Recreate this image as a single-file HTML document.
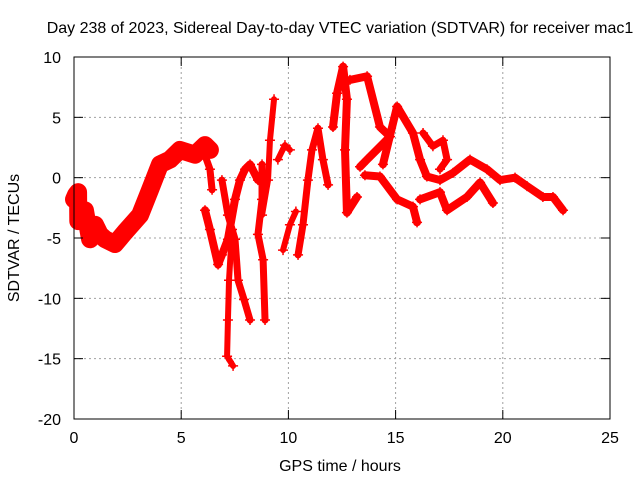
<!DOCTYPE html>
<html><head><meta charset="utf-8"><style>
body{margin:0;background:#fff}
svg text{font-family:"Liberation Sans",sans-serif;font-size:16px;fill:#000}
</style></head><body>
<svg id="chart" width="640" height="480" viewBox="0 0 640 480">
<rect width="640" height="480" fill="#fff"/>
<text x="340" y="33" text-anchor="middle">Day 238 of 2023, Sidereal Day-to-day VTEC variation (SDTVAR) for receiver mac1</text>
<g id="grid"></g>
<g id="marks"></g>
<rect x="74" y="57" width="536" height="362" fill="none" stroke="#000" stroke-width="1"/>
<g id="axes"></g>
<text x="340" y="471" text-anchor="middle">GPS time / hours</text>
<text transform="translate(19,238) rotate(-90)" text-anchor="middle">SDTVAR / TECUs</text>
</svg>
<script>
const xTicks=[0,5,10,15,20,25];
const yTicks=[10,5,0,-5,-10,-15,-20];
const A_h=[0,0.1,0.19,0.2,0.51,0.75,0.98,1.2,1.45,1.91,2.38,3.08,3.55,4.01,4.48,4.94,5.64,6.11,6.34];
const A_v=[-1.8,-1.4,-1.2,-3.6,-2.7,-5.1,-3.9,-4.7,-5.1,-5.5,-4.5,-3.1,-1.0,1.1,1.5,2.3,1.9,2.7,2.3];
const B1_h=[6.02,6.34,6.44];const B1_v=[2.3,0.7,-1.0];
const B2_h=[6.11,6.34,6.72,6.90,7.18,7.51,7.74,7.98,8.21,8.58];const B2_v=[-2.7,-4.3,-7.2,-6.4,-5.1,-1.8,-0.2,0.7,1.1,-0.2];
const C1_h=[6.90,7.18,7.51,7.65,7.93,8.21];const C1_v=[-0.2,-3.1,-5.1,-8.5,-10.1,-11.8];
const C2_h=[7.37,7.23,7.18,7.14,7.42];const C2_v=[-4.3,-8.5,-11.8,-14.8,-15.6];
const D_h=[8.77,8.77,8.58,8.82,8.91];const D_v=[1.1,-1.8,-4.7,-6.8,-11.8];
const E_h=[8.77,9.05,9.14,9.33];const E_v=[-3.1,-0.2,3.1,6.5];
const F1_h=[9.75,10.07,10.35];const F1_v=[-6.0,-3.9,-2.8];
const F2_h=[9.51,9.84,10.07];const F2_v=[1.5,2.7,2.3];
const H_h=[10.45,10.68,10.91,11.10,11.38,11.61,11.85];const H_v=[-6.4,-3.9,-0.2,2.3,4.1,1.5,-0.6];
const I_h=[12.08,12.27,12.55,12.73,12.64,12.73,13.20];const I_v=[4.2,7.0,9.2,6.5,2.3,-2.9,-1.6];
const J_h=[12.87,13.67,14.27,14.74,13.67,13.34];const J_v=[8.1,8.4,4.2,3.4,1.5,0.9];
const K_h=[14.41,15.07,15.81,16.14,16.46,17.07,17.68,18.47,19.26,19.87,20.57,21.13,21.87,22.34,22.81];
const K_v=[1.1,5.9,3.7,1.5,0.1,-0.2,0.4,1.5,0.7,-0.2,0.0,-0.7,-1.6,-1.6,-2.7];
const L_h=[13.57,14.27,15.07,15.81,16.0];const L_v=[0.2,0.1,-1.8,-2.4,-3.7];
const M_h=[16.14,17.07,17.40,18.33,18.94,19.54];const M_v=[-1.8,-1.2,-2.7,-1.6,-0.4,-2.1];
const N_h=[16.28,16.74,17.21,17.40,17.07];const N_v=[3.7,2.6,3.1,1.5,0.7];
const seriesList=[[A_h,A_v,'track-a',18],[B1_h,B1_v,'track-b1',7],[B2_h,B2_v,'track-b2',8],[C1_h,C1_v,'track-c1',7],[C2_h,C2_v,'track-c2',6],[D_h,D_v,'track-d',7],[E_h,E_v,'track-e',6],[F1_h,F1_v,'track-f1',6],[F2_h,F2_v,'track-f2',6],[H_h,H_v,'track-h',7],[I_h,I_v,'track-i',8],[J_h,J_v,'track-j',8],[K_h,K_v,'track-k',8],[L_h,L_v,'track-l',8],[M_h,M_v,'track-m',8],[N_h,N_v,'track-n',7]];
const NS='http://www.w3.org/2000/svg';
const X=h=>74+h*(536/25);
const Y=v=>419-(v+20)*(362/30);
function mk(t,a,p){const e=document.createElementNS(NS,t);for(const k in a)e.setAttribute(k,a[k]);p.appendChild(e);return e;}
const grid=document.getElementById('grid'),axes=document.getElementById('axes'),marks=document.getElementById('marks');
xTicks.forEach(t=>{
 if(t>0&&t<25){const g=mk('line',{x1:X(t),x2:X(t),y1:57,y2:419,stroke:'#a0a0a0','stroke-dasharray':'2,3'},grid);
 }
 mk('line',{x1:X(t),x2:X(t),y1:419,y2:410,stroke:'#000'},axes);
 mk('line',{x1:X(t),x2:X(t),y1:57,y2:66,stroke:'#000'},axes);
 const l=mk('text',{x:X(t),y:443,'text-anchor':'middle'},axes);l.textContent=t;
 
 
});
yTicks.forEach(t=>{
 if(t>-20&&t<10){const g=mk('line',{x1:74,x2:610,y1:Y(t),y2:Y(t),stroke:'#a0a0a0','stroke-dasharray':'2,3'},grid);
 }
 mk('line',{x1:74,x2:83,y1:Y(t),y2:Y(t),stroke:'#000'},axes);
 mk('line',{x1:601,x2:610,y1:Y(t),y2:Y(t),stroke:'#000'},axes);
 const l=mk('text',{x:61,y:Y(t)+6,'text-anchor':'end'},axes);l.textContent=t;
 
 
});
seriesList.forEach(([hs,vs,name,w])=>{
 const pts=hs.map((h,i)=>X(h)+','+Y(vs[i])).join(' ');
 const pl=mk('polyline',{points:pts,fill:'none',stroke:'#ff0000','stroke-width':w,'stroke-linejoin':'round','stroke-linecap':'round'},marks);
 
 
 hs.forEach((h,i)=>{
  const x=X(h),y=Y(vs[i]);
  const p=mk('path',{d:`M${x-5},${y}H${x+5}M${x},${y-5}V${y+5}`,stroke:'#ff0000','stroke-width':1.5},marks);
  
  
 });
});
</script>
</body></html>
